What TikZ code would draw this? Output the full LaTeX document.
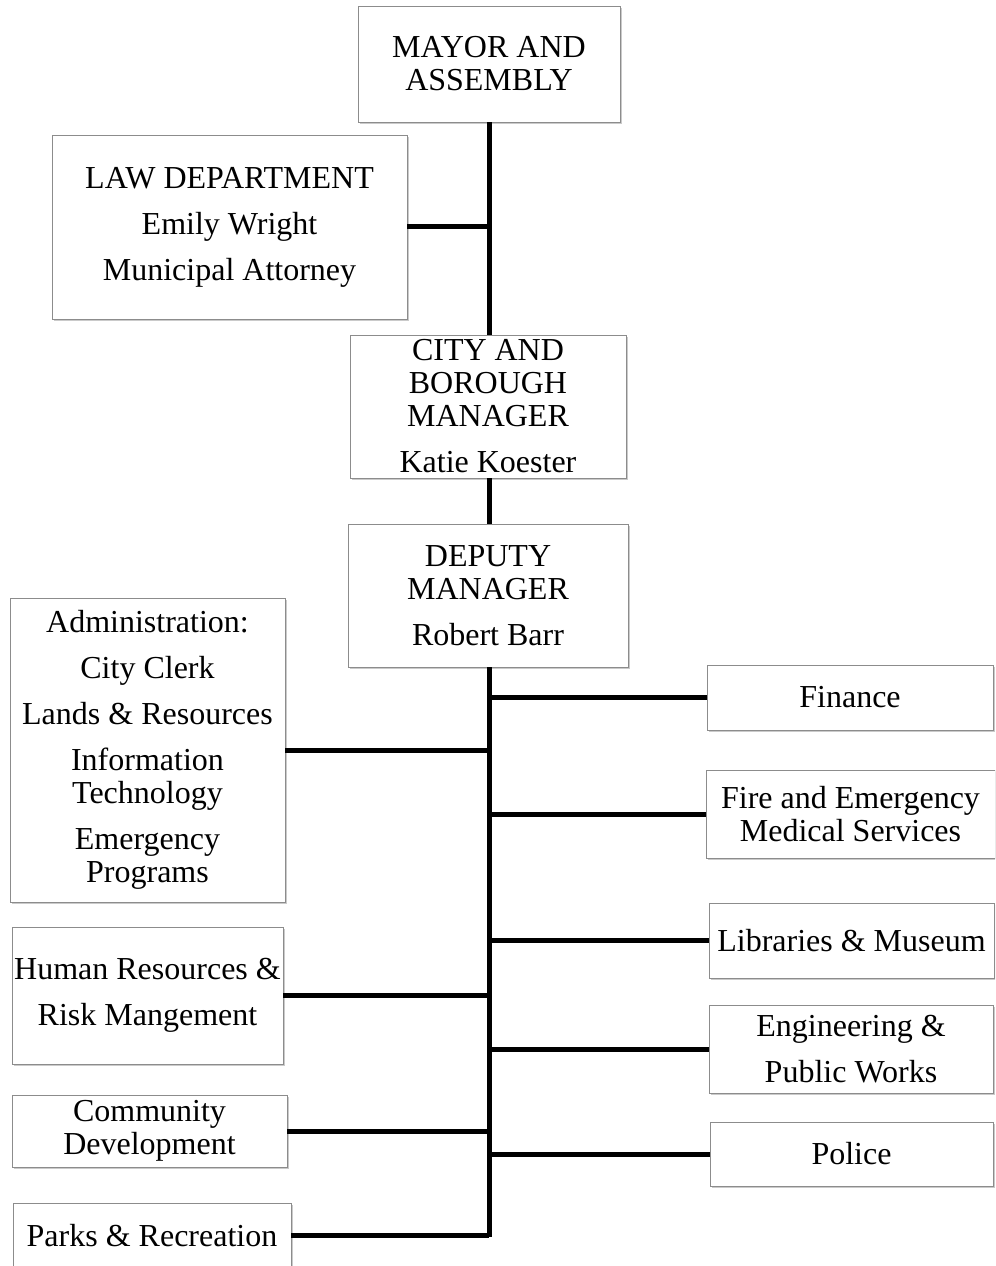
\documentclass[tikz,border=0pt]{standalone}
\usepackage{fontspec}
\setmainfont{Liberation Serif}
\usetikzlibrary{shadows}
\begin{document}
\begin{tikzpicture}[x=0.75pt,y=-0.75pt,
  box/.style={draw=black!45, line width=0.6pt, fill=white, align=center, inner sep=0pt,
    font=\fontsize{24}{24.75}\selectfont,
    drop shadow={shadow xshift=1.2pt, shadow yshift=-1.5pt, opacity=0.35, fill=black!60}},
  link/.style={line width=3.75pt, line cap=butt}]
\useasboundingbox (0,0) rectangle (995,1266);
\begin{scope}
\clip (0,0) rectangle (995,1266);
\node[box, minimum width=196.5pt, minimum height=87pt] (mayor) at (489,64) {MAYOR AND\\ASSEMBLY};
\node[box, minimum width=266.25pt, minimum height=138pt] (law) at (229.5,227) {LAW DEPARTMENT\\[9.75pt]Emily Wright\\[9.75pt]Municipal Attorney};
\node[box, minimum width=207pt, minimum height=107.25pt] (city) at (488,406.5) {CITY AND\\BOROUGH\\MANAGER\\[9.75pt]Katie Koester};
\node[box, minimum width=210pt, minimum height=107.25pt] (deputy) at (488,595.5) {DEPUTY\\MANAGER\\[9.75pt]Robert Barr};
\node[box, minimum width=206.25pt, minimum height=228pt] (admin) at (147.5,750) {Administration:\\[9.75pt]City Clerk\\[9.75pt]Lands \& Resources\\[9.75pt]Information\\Technology\\[9.75pt]Emergency\\Programs};
\node[box, minimum width=203.25pt, minimum height=102.75pt] (hr) at (147.5,995.5) {Human Resources \&\\[9.75pt]Risk Mangement};
\node[box, minimum width=206.25pt, minimum height=54pt] (comm) at (149.5,1131) {Community\\Development};
\node[box, minimum width=208.5pt, minimum height=48.75pt] (parks) at (152,1235.5) {Parks \& Recreation};
\node[box, minimum width=214.5pt, minimum height=48.75pt] (fin) at (850,697.5) {Finance};
\node[box, minimum width=216.75pt, minimum height=66pt] (fire) at (850.5,814) {Fire and Emergency\\Medical Services};
\node[box, minimum width=213.75pt, minimum height=56.25pt] (lib) at (851.5,940.5) {Libraries \& Museum};
\node[box, minimum width=213pt, minimum height=66pt] (eng) at (851,1049) {Engineering \&\\[9.75pt]Public Works};
\node[box, minimum width=212.25pt, minimum height=48pt] (police) at (851.5,1154) {Police};
\end{scope}
\coordinate (top) at (489,122);
\coordinate (bot) at (489,1237);
\draw[link] (mayor.south -| top) -- (city.north -| top);
\draw[link] (city.south -| top) -- (deputy.north -| top);
\draw[link] (deputy.south -| top) -- (bot);
\draw[link] (law.east) -- (law.east -| top);
\draw[link] (admin.east) -- (admin.east -| top);
\draw[link] (hr.east) -- (hr.east -| top);
\draw[link] (comm.east) -- (comm.east -| top);
\draw[link] (parks.east) -- (parks.east -| top);
\draw[link] (fin.west) -- (fin.west -| top);
\draw[link] (fire.west) -- (fire.west -| top);
\draw[link] (lib.west) -- (lib.west -| top);
\draw[link] (eng.west) -- (eng.west -| top);
\draw[link] (police.west) -- (police.west -| top);
\end{tikzpicture}
\end{document}
